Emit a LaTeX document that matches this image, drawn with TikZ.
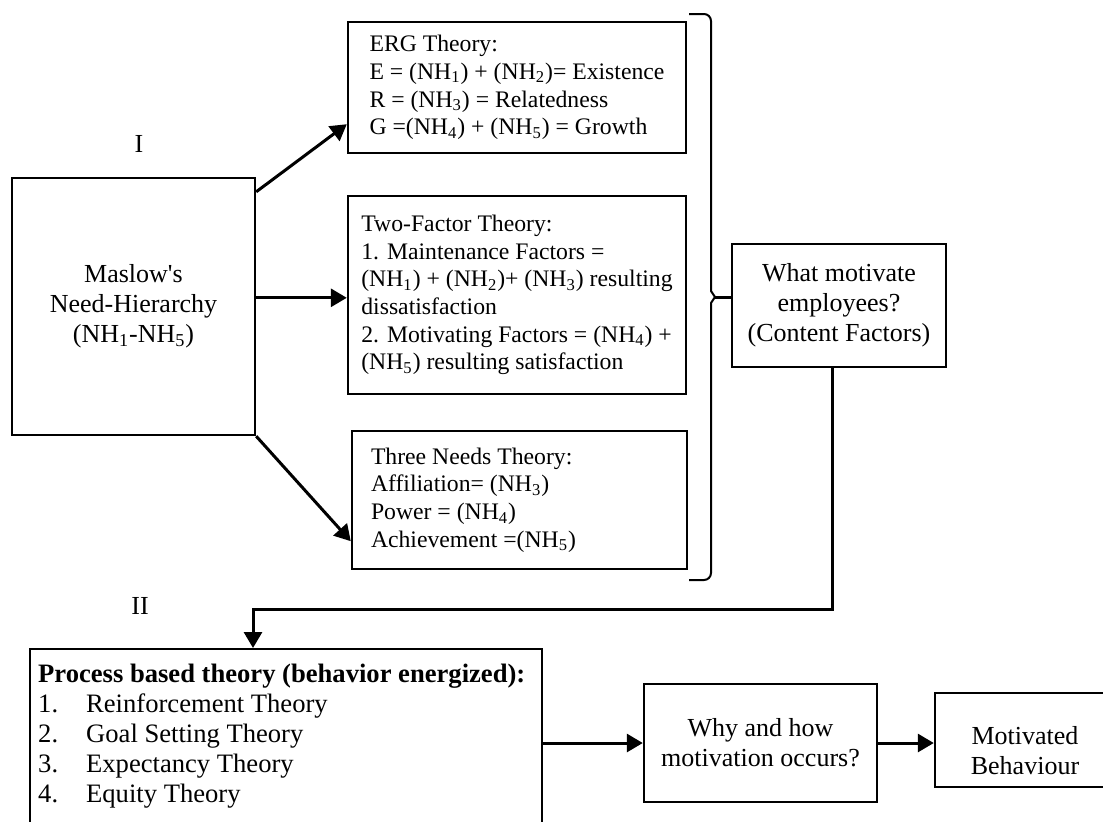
\documentclass[tikz,border=0pt]{standalone}
\usepackage{fontspec}
\setmainfont{Liberation Serif}
\usetikzlibrary{calc,arrows.meta}

\tikzset{
	box/.style={draw, line width=1.2pt, inner sep=0pt, align=flush left, font=\fontsize{11.85}{13.85}\selectfont},
	bigbox/.style={draw, line width=1.2pt, inner sep=0pt, align=center, font=\fontsize{13}{15}\selectfont},
	arr/.style={line width=1.5pt, -{Triangle[length=8pt,width=9pt]}},
	brace/.style={line width=1pt},
	lbl/.style={font=\fontsize{13}{15}\selectfont}
}

\begin{document}
\begin{tikzpicture}[x=0.5pt,y=-0.5pt]
\useasboundingbox (0,0) rectangle (1103,821);

\node[lbl] (one) at (139,144){I};
\node[lbl] (two) at (140,606){II};

\node[bigbox, minimum width=121.5pt, minimum height=128.5pt] (maslow) at (133.5,306.5)
	{Maslow\textquotesingle s\\Need-Hierarchy\\(NH\textsubscript{1}-NH\textsubscript{5})};

% content theories
\node[box, minimum width=169pt, minimum height=65.5pt] (erg) at (517,87.5)
	{ERG Theory:\\
	E = (NH\textsubscript{1}) + (NH\textsubscript{2})= Existence\\
	R = (NH\textsubscript{3}) = Relatedness\\
	G =(NH\textsubscript{4}) + (NH\textsubscript{5}) = Growth};
\node[box, minimum width=169pt, minimum height=99pt] (twof) at (517,295)
	{Two-Factor Theory:\\
	1. Maintenance Factors =\\
	(NH\textsubscript{1}) + (NH\textsubscript{2})+ (NH\textsubscript{3}) resulting\\
	dissatisfaction\\
	2. Motivating Factors = (NH\textsubscript{4}) +\\
	(NH\textsubscript{5}) resulting satisfaction};
\node[box, text width=148.5pt, minimum width=167.5pt, minimum height=69pt] (three) at (519.5,500)
	{Three Needs Theory:\\
	Affiliation= (NH\textsubscript{3})\\
	Power = (NH\textsubscript{4})\\
	Achievement =(NH\textsubscript{5})};

\node[bigbox, minimum width=107pt, minimum height=61.5pt] (what) at (839,305.5)
	{What motivate\\employees?\\(Content Factors)};

% process part
\node[draw, line width=1.2pt, anchor=north west, inner xsep=4pt, inner ysep=7.5pt, text width=248pt,
	align=flush left, font=\fontsize{13.3}{15}\selectfont] (proc) at (29,648)
	{\mbox{\textbf{Process based theory (behavior energized):}}\\
	\makebox[24pt][l]{1.}Reinforcement Theory\\
	\makebox[24pt][l]{2.}Goal Setting Theory\\
	\makebox[24pt][l]{3.}Expectancy Theory\\
	\makebox[24pt][l]{4.}Equity Theory\rule[-6pt]{0pt}{6pt}};
\node[bigbox, minimum width=116.5pt, minimum height=59pt] (why) at (760.5,743)
	{Why and how\\motivation occurs?};
\node[bigbox, minimum width=90pt, minimum height=47pt] (motiv) at (1025,740)
	{\rule{0pt}{20pt}Motivated\\Behaviour};

\draw[arr] ($(maslow.north east)+(0,15)$) -- ($(erg.south west)+(0,-30)$);
\draw[arr] ($(maslow.north east)+(0,121)$) coordinate (mid) -- (mid -| twof.west);
\draw[arr] (maslow.south east) -- ($(three.south west)+(0,-29)$);

\draw[brace] (689,14) -- (704,14) to[out=0,in=90] (711,21) -- (711,291)
	-- (715,297) coordinate (tip) -- (711,303) -- (711,573) to[out=-90,in=0] (704,580) -- (689,580);
\draw[line width=1.5pt] (tip) -- (tip -| what.west);

\coordinate (bend) at (253,609);
\draw[arr] ($(what.south)+(-7,0)$) |- (bend) -- (bend |- proc.north);
\draw[arr] (proc.east |- why.west) -- (why.west);
\draw[arr] (why.east) -- (why.east -| motiv.west);
\end{tikzpicture}
\end{document}
